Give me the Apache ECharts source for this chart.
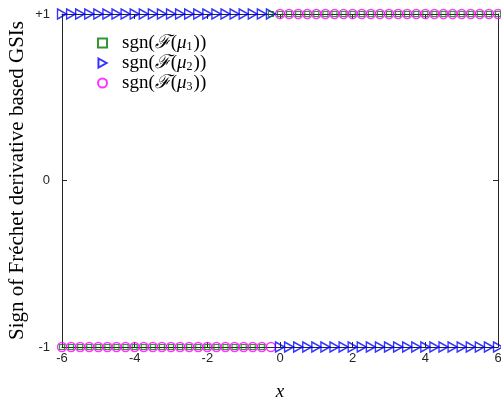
<!DOCTYPE html>
<html>
<head>
<meta charset="utf-8">
<script src="https://cdn.jsdelivr.net/npm/echarts@6/dist/echarts.min.js"></script>
<style>html,body{margin:0;padding:0;background:#fff;}#c{width:501px;height:408px;}</style>
</head>
<body>
<div id="c"></div>
<script>
var xValues = [-6,-5.75,-5.5,-5.25,-5,-4.75,-4.5,-4.25,-4,-3.75,-3.5,-3.25,-3,-2.75,-2.5,-2.25,-2,-1.75,-1.5,-1.25,-1,-0.75,-0.5,-0.25,0,0.25,0.5,0.75,1,1.25,1.5,1.75,2,2.25,2.5,2.75,3,3.25,3.5,3.75,4,4.25,4.5,4.75,5,5.25,5.5,5.75,6];
var signMu1 = [-1,-1,-1,-1,-1,-1,-1,-1,-1,-1,-1,-1,-1,-1,-1,-1,-1,-1,-1,-1,-1,-1,-1,1,1,1,1,1,1,1,1,1,1,1,1,1,1,1,1,1,1,1,1,1,1,1,1,1,1];
var signMu2 = [1,1,1,1,1,1,1,1,1,1,1,1,1,1,1,1,1,1,1,1,1,1,1,1,-1,-1,-1,-1,-1,-1,-1,-1,-1,-1,-1,-1,-1,-1,-1,-1,-1,-1,-1,-1,-1,-1,-1,-1,-1];
var signMu3 = [-1,-1,-1,-1,-1,-1,-1,-1,-1,-1,-1,-1,-1,-1,-1,-1,-1,-1,-1,-1,-1,-1,-1,-1,1,1,1,1,1,1,1,1,1,1,1,1,1,1,1,1,1,1,1,1,1,1,1,1,1];
var xTicks = [-6,-4,-2,0,2,4,6];
var yTickLabels = {'-1':'-1','0':'0','1':'+1'};
var seriesNames = ['mu1','mu2','mu3'];

function pairs(ys){ return xValues.map(function(x,i){ return [x, ys[i]]; }); }

var chart = echarts.init(document.getElementById('c'), null, {renderer:'canvas'});
var axisCol = '#262626';
var serif = '"Liberation Serif","DejaVu Serif",serif';
var sans = '"Liberation Sans",Arial,sans-serif';
var rich = {
  t: {fontFamily: serif, fontSize: 19, color:'#000', lineHeight:20},
  f: {fontFamily: serif, fontSize: 19, color:'#000', fontStyle:'italic', lineHeight:20},
  m: {fontFamily: serif, fontSize: 19, color:'#000', fontStyle:'italic', lineHeight:20},
  s: {fontFamily: serif, fontSize: 12, color:'#000', verticalAlign:'bottom', padding:[8,1,0,0], lineHeight:20}
};
var subs = {mu1:'1', mu2:'2', mu3:'3'};
var triPath = 'path://M0,0 L9,5 L0,10 Z';

function boxAxisX(pos){
  return {type:'value', position:pos, min:-6, max:6, interval:2,
    axisLine:{show:true, onZero:false, lineStyle:{color:axisCol, width:1}},
    axisTick:{show:true, inside:true, length:5, lineStyle:{color:axisCol}},
    axisLabel:{show:false}, splitLine:{show:false}};
}
function boxAxisY(pos){
  return {type:'value', position:pos, min:-1, max:1, interval:1,
    axisLine:{show:true, onZero:false, lineStyle:{color:axisCol, width:1}},
    axisTick:{show:true, inside:true, length:5, lineStyle:{color:axisCol}},
    axisLabel:{show:false}, splitLine:{show:false}};
}
var xMain = boxAxisX('bottom');
xMain.axisLabel = {show:true, color:'#262626', fontFamily:sans, fontSize:13, margin:5,
  formatter:function(v){ return xTicks.indexOf(v)>=0 ? String(v) : ''; }};
xMain.name = 'x'; xMain.nameLocation = 'middle'; xMain.nameGap = 35;
xMain.nameTextStyle = {fontFamily:serif, fontStyle:'italic', fontSize:19, color:'#000'};
var yMain = boxAxisY('left');
yMain.axisLabel = {show:true, color:'#262626', fontFamily:sans, fontSize:13, margin:12, padding:[0,0,10,0],
  formatter:function(v){ return yTickLabels[String(v)]; }};
yMain.name = 'Sign of Fr\u00e9chet derivative based GSIs'; yMain.nameLocation = 'middle'; yMain.nameGap = 34;
yMain.nameMoveOverlap = false;
yMain.nameTextStyle = {fontFamily:serif, fontSize:21, color:'#000'};

chart.setOption({
  animation:false,
  backgroundColor:'#fff',
  grid:{left:62, right:3, top:14, bottom:61, containLabel:false, outerBoundsMode:'none', show:false},
  legend:{
    orient:'vertical', left:92, top:28, itemGap:0, itemWidth:9, itemHeight:9,
    data:[
      {name:'mu1', icon:'rect'},
      {name:'mu2', icon:triPath},
      {name:'mu3', icon:'circle'}
    ],
    formatter:function(n){ return '{t|sgn(}{f|\u2131}{t|(}{m|\u03bc}{s|'+subs[n]+'}{t|))}'; },
    textStyle:{rich:rich, padding:[0,0,0,10]}
  },
  xAxis:[xMain, boxAxisX('top')],
  yAxis:[yMain, boxAxisY('right')],
  series:[
    {name:'mu2', type:'scatter', data:pairs(signMu2), symbol:triPath, symbolSize:[9,10],
      itemStyle:{color:'rgba(0,0,0,0)', borderColor:'#0000ff', borderWidth:1.4}, z:3},
    {name:'mu1', type:'scatter', data:pairs(signMu1), symbol:'rect', symbolSize:5,
      itemStyle:{color:'rgba(0,0,0,0)', borderColor:'#007a00', borderWidth:1.2}, z:4},
    {name:'mu3', type:'scatter', data:pairs(signMu3), symbol:'circle', symbolSize:9,
      itemStyle:{color:'rgba(0,0,0,0)', borderColor:'#ff00ff', borderWidth:1.4}, z:2}
  ]
});
</script>
</body>
</html>
